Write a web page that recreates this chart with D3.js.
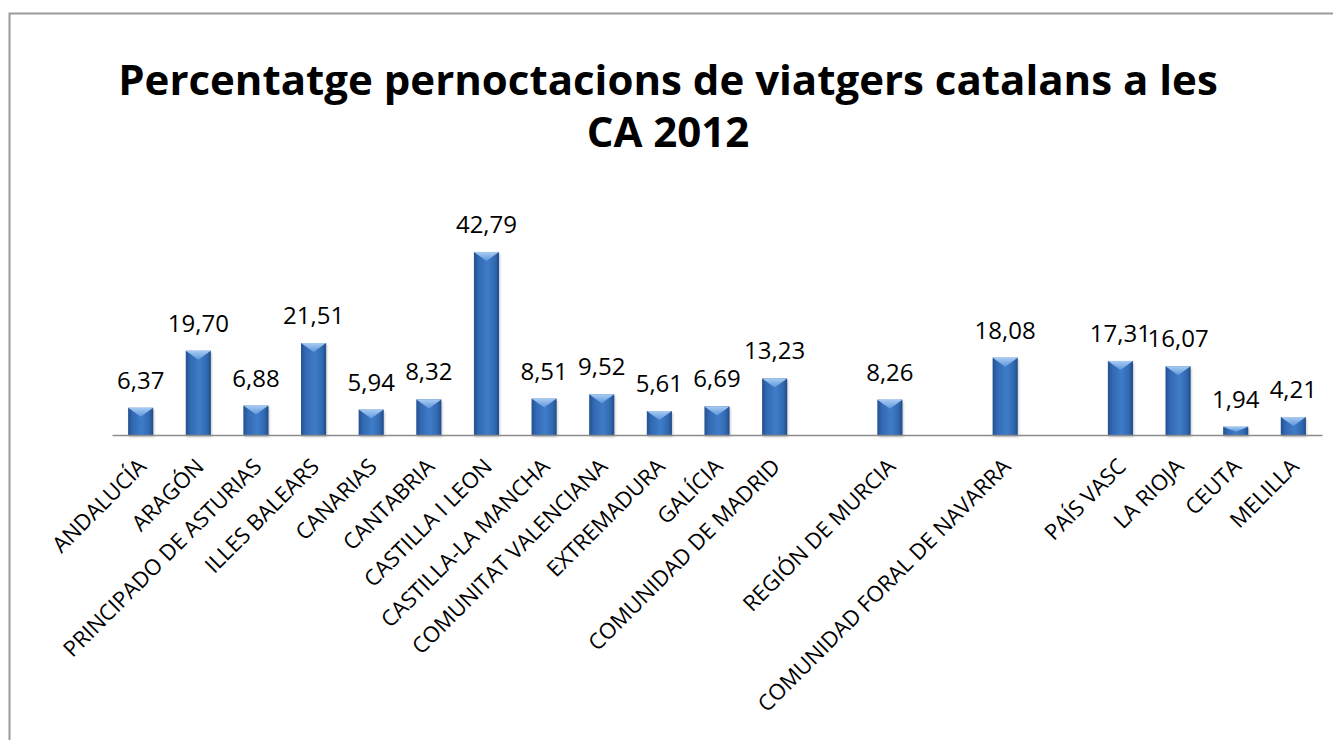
<!DOCTYPE html>
<html>
<head>
<meta charset="utf-8">
<script src="https://cdn.jsdelivr.net/npm/d3@7"></script>
<style>
  html, body { margin: 0; padding: 0; background: #fff; }
  svg { display: block; }
</style>
</head>
<body>
<svg id="chart" width="1333" height="740"></svg>
<script>
// ---- data ----
const title = ["Percentatge pernoctacions de viatgers catalans a les", "CA 2012"];
const categories = [
  "ANDALUCÍA", "ARAGÓN", "PRINCIPADO DE ASTURIAS", "ILLES BALEARS", "CANARIAS",
  "CANTABRIA", "CASTILLA I LEON", "CASTILLA-LA MANCHA", "COMUNITAT VALENCIANA",
  "EXTREMADURA", "GALÍCIA", "COMUNIDAD DE MADRID", "", "REGIÓN DE MURCIA", "",
  "COMUNIDAD FORAL DE NAVARRA", "", "PAÍS VASC", "LA RIOJA", "CEUTA", "MELILLA"
];
const values = [
  6.37, 19.70, 6.88, 21.51, 5.94,
  8.32, 42.79, 8.51, 9.52,
  5.61, 6.69, 13.23, null, 8.26, null,
  18.08, null, 17.31, 16.07, 1.94, 4.21
];
const yMax = 45;

// ---- drawing ----
const svg = d3.select("#chart");
const plot = { left: 112, right: 1322, top: 242.5, bottom: 435 };

const defs = svg.append("defs");
const g1 = defs.append("linearGradient").attr("id", "barGrad").attr("x1", "0").attr("x2", "1").attr("y1", "0").attr("y2", "0");
g1.append("stop").attr("offset", "0%").attr("stop-color", "#23508f");
g1.append("stop").attr("offset", "18%").attr("stop-color", "#3269b3");
g1.append("stop").attr("offset", "55%").attr("stop-color", "#3f7cc8");
g1.append("stop").attr("offset", "85%").attr("stop-color", "#3068b0");
g1.append("stop").attr("offset", "100%").attr("stop-color", "#1f4a86");
const g2 = defs.append("linearGradient").attr("id", "topGrad").attr("x1", "0").attr("x2", "0").attr("y1", "0").attr("y2", "1");
g2.append("stop").attr("offset", "0%").attr("stop-color", "#a9cbf2");
g2.append("stop").attr("offset", "100%").attr("stop-color", "#5d97dc");
const blur = defs.append("filter").attr("id", "shadow").attr("x", "-20%").attr("y", "-20%").attr("width", "140%").attr("height", "140%");
blur.append("feGaussianBlur").attr("stdDeviation", 1.2);

// chart frame (extends beyond the viewport on the right and bottom)
svg.append("rect")
  .attr("x", 9.5).attr("y", 13.5).attr("width", 1400).attr("height", 800)
  .attr("fill", "#fff").attr("stroke", "#9a9a9a").attr("stroke-width", 2);

// title
const tcx = 668;
svg.append("text")
  .attr("x", tcx).attr("y", 95)
  .attr("text-anchor", "middle")
  .attr("font-family", "'Open Sans', sans-serif")
  .attr("font-weight", "bold")
  .attr("font-size", 42)
  .attr("fill", "#000")
  .selectAll("tspan").data(title).join("tspan")
  .attr("x", tcx).attr("dy", (d, i) => i === 0 ? 0 : 52)
  .text(d => d);

const idx = d3.range(categories.length);
const x = d3.scaleBand().domain(idx).range([plot.left, plot.right]).paddingInner(0.565).paddingOuter(0.28);
const y = d3.scaleLinear().domain([0, yMax]).range([plot.bottom, plot.top]);

const fmt = d3.formatLocale({ decimal: ",", thousands: ".", grouping: [3], currency: ["", "€"] }).format(".2f");

const data = idx.map(i => ({ i, cat: categories[i], v: values[i] }));
const barData = data.filter(d => d.v !== null);

// bar shadows
svg.append("g").selectAll("rect").data(barData).join("rect")
  .attr("x", d => x(d.i) + 1).attr("y", d => y(d.v) + 2)
  .attr("width", x.bandwidth()).attr("height", d => y(0) - y(d.v))
  .attr("fill", "#9a9a9a").attr("opacity", 0.55).attr("filter", "url(#shadow)");

// bars
const bars = svg.append("g");
bars.selectAll("rect").data(barData).join("rect")
  .attr("x", d => x(d.i)).attr("y", d => y(d.v))
  .attr("width", x.bandwidth()).attr("height", d => y(0) - y(d.v))
  .attr("fill", "url(#barGrad)");
// top bevel
bars.selectAll("path").data(barData).join("path")
  .attr("d", d => {
    const x0 = x(d.i), x1 = x0 + x.bandwidth(), t = y(d.v);
    const depth = Math.min(9, (y(0) - t) * 0.6);
    return `M${x0},${t} L${x1},${t} L${x0 + x.bandwidth() / 2},${t + depth} Z`;
  })
  .attr("fill", "url(#topGrad)");

// axis line
const xAxis = d3.axisBottom(x).tickSize(0).tickFormat(() => "");
const axG = svg.append("g").attr("transform", `translate(0,${plot.bottom})`).call(xAxis);
axG.select(".domain").attr("stroke", "#8c8c8c").attr("stroke-width", 1.5);

// value labels
svg.append("g").selectAll("text").data(barData).join("text")
  .attr("x", d => x(d.i) + x.bandwidth() / 2)
  .attr("y", d => y(d.v) - 19)
  .attr("text-anchor", "middle")
  .attr("font-family", "'Open Sans', sans-serif")
  .attr("font-size", 24)
  .attr("fill", "#000")
  .text(d => fmt(d.v));

// category labels
svg.append("g").selectAll("text").data(data.filter(d => d.cat !== "")).join("text")
  .attr("transform", d => `translate(${x(d.i) + x.bandwidth() / 2 + 7},${plot.bottom + 33}) rotate(-45)`)
  .attr("text-anchor", "end")
  .attr("font-family", "'Open Sans', sans-serif")
  .attr("font-size", 22)
  .attr("fill", "#000")
  .text(d => d.cat);
</script>
</body>
</html>
